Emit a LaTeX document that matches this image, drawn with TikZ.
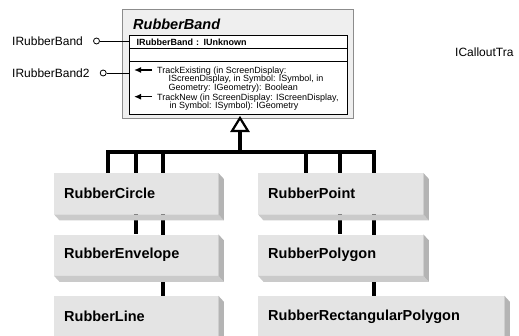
\documentclass[tikz,border=0pt]{standalone}
\usepackage{fontspec}
\setmainfont{Liberation Sans}
\usetikzlibrary{positioning,arrows.meta,backgrounds,calc}
\definecolor{frontgray}{HTML}{E4E4E4}
\definecolor{sidegray}{HTML}{B4B4B4}
\definecolor{bottomgray}{HTML}{CACACA}
\definecolor{bandgray}{HTML}{EFEFEF}
\definecolor{bandedge}{HTML}{8C8C8C}
\newcommand\tightlines{\lineskiplimit=-20pt\relax\lineskip=0pt\relax}

\begin{document}
\begin{tikzpicture}[x=1pt, y=-1pt, node distance=20pt,
	classbox/.style={rectangle, fill=frontgray, minimum height=41pt, inner xsep=10pt,
		inner ysep=0pt, text width=#1, align=left, font=\bfseries\fontsize{14.5}{17}\selectfont},
	compart/.style={draw, fill=white, line width=1.2pt, minimum width=218pt, inner sep=0pt,
		anchor=north west},
	optext/.style={anchor=north west, inner sep=0pt, align=left,
		font=\fontsize{9}{8.4}\selectfont\tightlines},
	lollipop/.style={draw, circle, fill=white, line width=0.8pt, minimum size=6pt, inner sep=0pt},
	ifclabel/.style={inner sep=0pt, font=\fontsize{12}{14}\selectfont},
	tree/.style={line width=3.5pt},
	marker/.style={line width=1.5pt, -{Latex[length=7pt,width=6pt]}}]
		\useasboundingbox (0,0) rectangle (519,336); \clip (0,0) rectangle (519,336);
		
		% Define nodes
		\node[draw=bandedge, fill=bandgray, line width=0.8pt, minimum width=231pt,
		minimum height=109pt, anchor=north west, inner sep=0pt] (rubberband) at (122,9) {};
		\node[anchor=base west, inner sep=0pt, font=\bfseries\itshape\fontsize{14.5}{17}\selectfont]
		(bandtitle) at (133,30) {RubberBand}; \node[compart, minimum height=13pt, inner xsep=7pt,
		text width=204pt, align=left, font=\bfseries\fontsize{9}{10}\selectfont] (header) at (129,35)
		{IRubberBand : IUnknown}; \node[compart, minimum height=13pt] (attrs) at (129,48) {};
		\node[compart, minimum height=53pt] (ops) at (129,61) {};
		\node[optext] (trackexisting) at (157,66.6) {TrackExisting (in ScreenDisplay:\\
			\hspace*{11.5pt}IScreenDisplay, in Symbol: ISymbol, in\\
			\hspace*{11.5pt}Geometry: IGeometry): Boolean};
		\node[optext] (tracknew) at (157,93.3) {TrackNew (in ScreenDisplay: IScreenDisplay,\\
			\hspace*{12.5pt}in Symbol: ISymbol): IGeometry};
		\coordinate (arr1s) at (152,70); \coordinate (arr1e) at (134,70);
		\coordinate (arr2s) at (152,96.7); \coordinate (arr2e) at (134,96.7);
		
		\node[ifclabel, anchor=west] (ifcbandlbl) at (12,41) {IRubberBand}; \node[lollipop, right=10pt
		of ifcbandlbl] (ifcband) {}; \node[ifclabel, anchor=west] (ifcband2lbl) at (12,73)
		{IRubberBand2}; \node[lollipop, right=10pt of ifcband2lbl] (ifcband2) {};
		\node[ifclabel, anchor=west] (callout) at (455,52) {ICalloutTra};
		
		\node[classbox=144pt, anchor=north west] (circ) at (54,173) {RubberCircle};
		\node[classbox=144pt, below=of circ] (env) {RubberEnvelope};
		\node[classbox=144pt, below=of env] (rline) {RubberLine};
		\node[classbox=145pt, anchor=north west] (point) at (258,173) {RubberPoint};
		\node[classbox=145pt, below=of point] (poly) {RubberPolygon};
		\node[classbox=226pt, below=of poly.south west, anchor=north west] (rect)
		{RubberRectangularPolygon};
		\foreach \n in {circ,env,rline,point,poly,rect}{
			\fill[bottomgray] (\n.south west) -- (\n.south east) -- ++(5.5,6)
			-- ($(\n.south west)+(5.5,6)$) -- cycle;
			\fill[sidegray] (\n.north east) -- ++(5.5,6) -- ($(\n.south east)+(5.5,6)$)
			-- (\n.south east) -- cycle;}
		
		% Draw edges
		\draw[line width=0.8pt] (ifcband) -- (ifcband -| header.west); \draw[line width=0.8pt]
		(ifcband2) -- (ifcband2 -| ops.west); \draw[marker] (arr1s) -- (arr1e); \draw[marker]
		(arr2s) -- (arr2e);
		\coordinate (apex) at (240,118); \coordinate (tribase) at (240,131);
		\coordinate (hub) at (240,152);
		\draw[fill=white, line width=2.2pt, line join=miter] (apex) -- ++(8,13) -- ++(-16,0) -- cycle;
		\begin{scope}[on background layer]
			\draw[tree] (tribase) -- (hub);
			\foreach \n/\d in {circ/54,env/82,rline/109,point/48,poly/82,rect/116}
			\draw[tree] (hub) -| ($(\n.north west)+(\d,0)$);
		\end{scope}
	\end{tikzpicture}
\end{document}
